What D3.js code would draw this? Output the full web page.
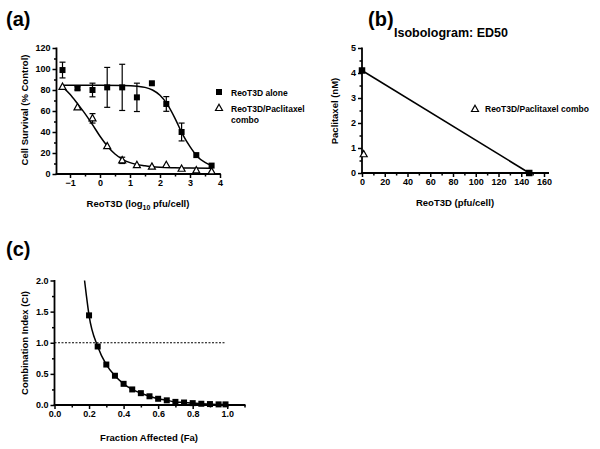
<!DOCTYPE html>
<html><head><meta charset="utf-8">
<script src="https://cdn.jsdelivr.net/npm/d3@7"></script>
<style>
body{margin:0;background:#fff}
svg{display:block}
text{font-family:"Liberation Sans",Arial,sans-serif;font-weight:bold;fill:#000}
</style>
</head><body>
<svg id="chart" width="600" height="449"></svg>
<script>
// ---------- Panel (a): dose response ----------
const aDoseLog   = [-1.25, -0.75, -0.25, 0.24, 0.74, 1.23, 1.73, 2.21, 2.72, 3.21, 3.72];
const aAloneMean = [99, 81.6, 80, 82.5, 82.5, 73, 86.4, 66.7, 40, 18, 8];
const aAloneErr  = [7.5, 1.5, 6.5, 19, 22, 13.5, 0, 7, 8.5, 0, 0];
const aComboMean = [83, 63.5, 53, 26.5, 13, 8.5, 7, 8.6, 5, 3.5, 2.5];
const aComboErr  = [0, 0, 4.5, 0, 3, 0, 0, 0, 0, 0, 0];
const aAloneFitX = [-1.25, 0, 0.75, 1.25, 1.5, 1.75, 2.0, 2.25, 2.5, 2.75, 3.0, 3.25, 3.5, 3.72];
const aAloneFitY = [84.5, 84.5, 84.3, 83.5, 82.5, 80, 75, 66, 53, 38, 26, 16.5, 11, 8];
const aComboFitX = [-1.25, -1.0, -0.75, -0.5, -0.25, 0, 0.25, 0.5, 0.75, 1.0, 1.5, 2.0, 2.5, 3.0, 3.72];
const aComboFitY = [83, 76, 67, 57.5, 47, 36, 26.5, 19, 14, 10.8, 7.8, 6.4, 5.9, 5.6, 5.5];
const aXTicks = [-1, 0, 1, 2, 3, 4];
const aXMinor = [-0.5, 0.5, 1.5, 2.5, 3.5];
const aYTicks = [0, 20, 40, 60, 80, 100, 120];
const aYMinor = [10, 30, 50, 70, 90, 110];
const aLegend = ["ReoT3D alone", "ReoT3D/Paclitaxel", "combo"];

// ---------- Panel (b): isobologram ----------
const bLineX = [0, 147];
const bLineY = [4.1, 0];
const bComboX = [1.5];
const bComboY = [0.75];
const bXTicks = [0, 20, 40, 60, 80, 100, 120, 140, 160];
const bXMinor = [10, 30, 50, 70, 90, 110, 130, 150];
const bYTicks = [0, 1, 2, 3, 4, 5];
const bYMinor = [0.5, 1.5, 2.5, 3.5, 4.5];
const bTitle = "Isobologram: ED50";
const bLegend = "ReoT3D/Paclitaxel combo";

// ---------- Panel (c): combination index ----------
const cFa = [0.2, 0.25, 0.3, 0.35, 0.4, 0.45, 0.5, 0.55, 0.6, 0.65, 0.7, 0.75, 0.8, 0.85, 0.9, 0.95, 0.99];
const cCI = [1.44, 0.94, 0.65, 0.47, 0.34, 0.25, 0.19, 0.14, 0.10, 0.075, 0.05, 0.04, 0.03, 0.02, 0.015, 0.01, 0.01];
const cFitFa = [0.174, 0.185].concat(cFa);
const cFitCI = [2.0, 1.75].concat(cCI);
const cRefLine = [0, 0.985];
const cXTicks = [0, 0.2, 0.4, 0.6, 0.8, 1.0];
const cXMinor = [0.1, 0.3, 0.5, 0.7, 0.9, 1.1];
const cYTicks = [0, 0.5, 1.0, 1.5, 2.0];
const cYMinor = [0.25, 0.75, 1.25, 1.75];

const svg = d3.select("#chart");

function drawAxes(g, x, y, xMaj, xMin, yMaj, yMin, fx, fy, xEnd, yTop) {
  const y0 = y.range()[0], x0 = x.range()[0];
  const xa = g.append("g").attr("transform", `translate(0,${y0})`)
    .call(d3.axisBottom(x).tickValues(xMaj).tickSize(4).tickPadding(2).tickFormat(fx));
  xa.select(".domain").remove();
  xa.selectAll("text").attr("font-size", 9).attr("font-family", "Liberation Sans").attr("font-weight", "bold");
  xa.selectAll("line").attr("stroke", "#000").attr("stroke-width", 1.5);
  const xm = g.append("g").attr("transform", `translate(0,${y0})`)
    .call(d3.axisBottom(x).tickValues(xMin).tickSize(2.5).tickFormat(""));
  xm.select(".domain").remove();
  xm.selectAll("line").attr("stroke", "#000").attr("stroke-width", 1.5);
  const ya = g.append("g").attr("transform", `translate(${x0},0)`)
    .call(d3.axisLeft(y).tickValues(yMaj).tickSize(4).tickPadding(2).tickFormat(fy));
  ya.select(".domain").remove();
  ya.selectAll("text").attr("font-size", 9).attr("font-family", "Liberation Sans").attr("font-weight", "bold");
  ya.selectAll("line").attr("stroke", "#000").attr("stroke-width", 1.5);
  const ym = g.append("g").attr("transform", `translate(${x0},0)`)
    .call(d3.axisLeft(y).tickValues(yMin).tickSize(2.5).tickFormat(""));
  ym.select(".domain").remove();
  ym.selectAll("line").attr("stroke", "#000").attr("stroke-width", 1.5);
  g.append("line").attr("x1", x0 - 0.8).attr("x2", xEnd).attr("y1", y0).attr("y2", y0)
    .attr("stroke", "#000").attr("stroke-width", 1.8);
  g.append("line").attr("x1", x0).attr("x2", x0).attr("y1", y0 + 0.8).attr("y2", yTop)
    .attr("stroke", "#000").attr("stroke-width", 1.8);
}

function square(g, cx, cy, s) {
  g.append("rect").attr("x", cx - s / 2).attr("y", cy - s / 2).attr("width", s).attr("height", s).attr("fill", "#000");
}
function triangle(g, cx, cy, s) {
  const h = s * 0.9;
  g.append("path").attr("d", `M${cx},${cy - h * 0.6}L${cx + s / 2},${cy + h * 0.4}L${cx - s / 2},${cy + h * 0.4}Z`)
    .attr("fill", "#fff").attr("stroke", "#000").attr("stroke-width", 1.2);
}
function errBar(g, cx, yTop, yBot) {
  g.append("line").attr("x1", cx).attr("x2", cx).attr("y1", yTop).attr("y2", yBot).attr("stroke", "#000").attr("stroke-width", 1.2);
  [yTop, yBot].forEach(v => g.append("line").attr("x1", cx - 3).attr("x2", cx + 3).attr("y1", v).attr("y2", v).attr("stroke", "#000").attr("stroke-width", 1.2));
}
function panelLabel(txt, x, y) {
  svg.append("text").attr("x", x).attr("y", y).attr("font-size", 20).text(txt);
}

// ===== Panel (a) =====
{
  const g = svg.append("g");
  const x = d3.scaleLinear().domain([-1.45, 4]).range([56.5, 220]);
  const y = d3.scaleLinear().domain([0, 120]).range([174, 48]);
  drawAxes(g, x, y, aXTicks, aXMinor, aYTicks, aYMinor, d3.format("d"), d3.format("d"), 220.8, 47.5);
  const line = d3.line().x(d => x(d[0])).y(d => y(d[1])).curve(d3.curveMonotoneX);
  g.append("path").attr("d", line(aAloneFitX.map((v, i) => [v, aAloneFitY[i]])))
    .attr("fill", "none").attr("stroke", "#000").attr("stroke-width", 1.5);
  g.append("path").attr("d", line(aComboFitX.map((v, i) => [v, aComboFitY[i]])))
    .attr("fill", "none").attr("stroke", "#000").attr("stroke-width", 1.5);
  aDoseLog.forEach((d, i) => {
    if (aAloneErr[i] > 0) errBar(g, x(d), y(aAloneMean[i] + aAloneErr[i]), y(aAloneMean[i] - aAloneErr[i]));
    if (aComboErr[i] > 0) errBar(g, x(d), y(aComboMean[i] + aComboErr[i]), y(aComboMean[i] - aComboErr[i]));
  });
  aDoseLog.forEach((d, i) => triangle(g, x(d), y(aComboMean[i]), 7));
  aDoseLog.forEach((d, i) => square(g, x(d), y(aAloneMean[i]), 6));
  g.append("text").attr("transform", "translate(28,110) rotate(-90)").attr("text-anchor", "middle")
    .attr("font-size", 9.5).text("Cell Survival (% Control)");
  const t = g.append("text").attr("x", 138).attr("y", 207).attr("text-anchor", "middle").attr("font-size", 9.5);
  t.append("tspan").text("ReoT3D (log");
  t.append("tspan").attr("font-size", 7).attr("dy", 2.5).text("10");
  t.append("tspan").attr("dy", -2.5).text(" pfu/cell)");
  square(g, 219, 92, 6);
  triangle(g, 219, 108, 7);
  g.append("text").attr("x", 231).attr("y", 95.5).attr("font-size", 8.5).text(aLegend[0]);
  g.append("text").attr("x", 231).attr("y", 111.5).attr("font-size", 8.5).text(aLegend[1]);
  g.append("text").attr("x", 231).attr("y", 122.5).attr("font-size", 8.5).text(aLegend[2]);
  panelLabel("(a)", 6, 26);
}

// ===== Panel (b) =====
{
  const g = svg.append("g");
  const x = d3.scaleLinear().domain([0, 160]).range([362, 544]);
  const y = d3.scaleLinear().domain([0, 5]).range([173, 48]);
  drawAxes(g, x, y, bXTicks, bXMinor, bYTicks, bYMinor, d3.format("d"), d3.format("d"), 549, 47.5);
  const line = d3.line().x(d => x(d[0])).y(d => y(d[1]));
  g.append("path").attr("d", line(bLineX.map((v, i) => [v, bLineY[i]])))
    .attr("fill", "none").attr("stroke", "#000").attr("stroke-width", 1.5);
  bLineX.forEach((v, i) => square(g, x(v), y(bLineY[i]), 6.5));
  bComboX.forEach((v, i) => triangle(g, x(v), y(bComboY[i]), 7));
  g.append("text").attr("x", 451).attr("y", 37).attr("text-anchor", "middle").attr("font-size", 12.5).text(bTitle);
  g.append("text").attr("transform", "translate(338,111) rotate(-90)").attr("text-anchor", "middle")
    .attr("font-size", 9.5).text("Paclitaxel (nM)");
  g.append("text").attr("x", 455).attr("y", 206).attr("text-anchor", "middle").attr("font-size", 9.5).text("ReoT3D (pfu/cell)");
  triangle(g, 475, 109, 7);
  g.append("text").attr("x", 485).attr("y", 112).attr("font-size", 8.5).text(bLegend);
  panelLabel("(b)", 368, 26);
}

// ===== Panel (c) =====
{
  const g = svg.append("g");
  const x = d3.scaleLinear().domain([0, 1.1]).range([54.5, 244.5]);
  const y = d3.scaleLinear().domain([0, 2]).range([405, 280.5]);
  drawAxes(g, x, y, cXTicks, cXMinor, cYTicks, cYMinor, d3.format(".1f"), d3.format(".1f"), 245.5, 280);
  g.append("line").attr("x1", x(cRefLine[0])).attr("x2", x(cRefLine[1])).attr("y1", y(1)).attr("y2", y(1))
    .attr("stroke", "#000").attr("stroke-width", 1).attr("stroke-dasharray", "2,1.5");
  const line = d3.line().x(d => x(d[0])).y(d => y(d[1])).curve(d3.curveMonotoneX);
  g.append("path").attr("d", line(cFitFa.map((v, i) => [v, cFitCI[i]])))
    .attr("fill", "none").attr("stroke", "#000").attr("stroke-width", 1.5);
  cFa.forEach((v, i) => square(g, x(v), y(cCI[i]), 6));
  g.append("text").attr("transform", "translate(28,343) rotate(-90)").attr("text-anchor", "middle")
    .attr("font-size", 9.5).text("Combination Index (CI)");
  g.append("text").attr("x", 149).attr("y", 441).attr("text-anchor", "middle").attr("font-size", 9.5).text("Fraction Affected (Fa)");
  panelLabel("(c)", 6, 256);
}
</script>
</body></html>
